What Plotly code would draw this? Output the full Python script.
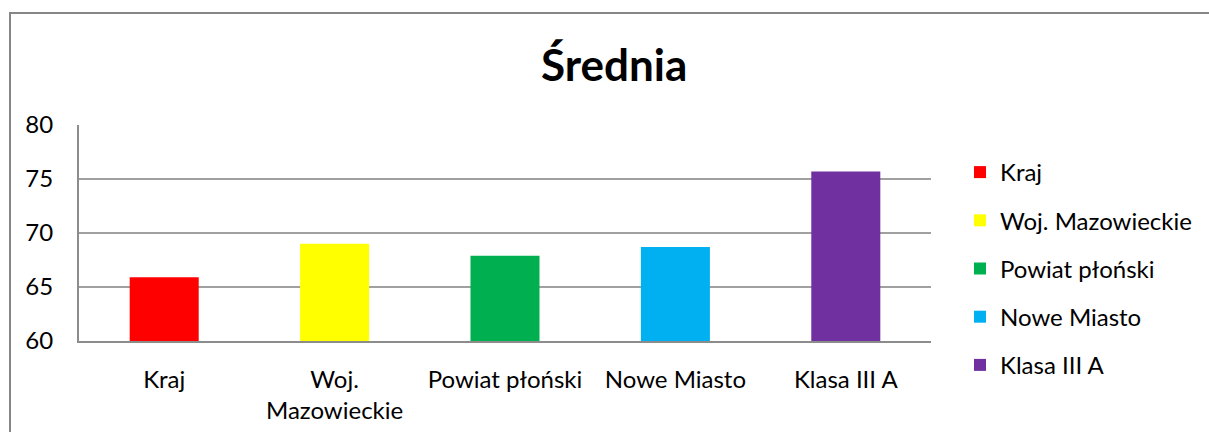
import plotly.graph_objects as go

categories = ["Kraj", "Woj. Mazowieckie", "Powiat płoński", "Nowe Miasto", "Klasa III A"]
tick_labels = ["Kraj", "Woj.<br>Mazowieckie", "Powiat płoński", "Nowe Miasto", "Klasa III A"]
values = [65.9, 69.0, 67.9, 68.7, 75.7]
colors = ["#FF0000", "#FFFF00", "#00B050", "#00B0F0", "#7030A0"]
y_ticks = [60, 65, 70, 75, 80]

FONT = "Lato"
W, H = 1209, 432
ML, MR, MT, MB = 79, 278, 100, 40
GW, GH = W - ML - MR, H - MT - MB


def py(pix):
    """page pixel row -> paper y fraction"""
    return (H - MB - pix) / GH


def px(pix):
    return (pix - ML) / GW


fig = go.Figure()
for i, (cat, v, c) in enumerate(zip(categories, values, colors)):
    fig.add_trace(go.Bar(
        x=[cat], y=[v], name=cat, marker=dict(color=c, line=dict(width=0)),
        width=0.405, legendgroup=f"g{i}",
    ))

fig.update_layout(
    width=W, height=H,
    barmode="overlay",
    plot_bgcolor="white", paper_bgcolor="white",
    margin=dict(l=ML, r=MR, t=MT, b=MB, autoexpand=False),
    title=dict(text="<b>Średnia</b>", x=0.508, xanchor="center", y=0.848, yanchor="middle",
               font=dict(family=FONT, size=44, color="black")),
    font=dict(family=FONT, size=24, color="black"),
    legend=dict(x=px(960), xanchor="left", y=py(150), yanchor="top", tracegroupgap=14,
                font=dict(family=FONT, size=24, color="black"), itemwidth=30),
    showlegend=True,
    shapes=[dict(type="rect", xref="paper", yref="paper",
                 x0=px(10), x1=px(1260), y0=py(500), y1=py(13),
                 line=dict(color="#868686", width=2), fillcolor="rgba(0,0,0,0)", layer="below")],
)
fig.update_xaxes(
    domain=[0, 1],
    categoryorder="array", categoryarray=categories,
    tickvals=categories, ticktext=tick_labels,
    showline=True, linecolor="#8c8c8c", linewidth=2,
    ticks="outside", ticklen=16, tickcolor="rgba(0,0,0,0)",
    tickfont=dict(family=FONT, size=24, color="black"),
    automargin=False,
)
fig.update_yaxes(
    domain=[py(341), py(125)],
    range=[60, 80], tickvals=y_ticks,
    showgrid=True, gridcolor="#a0a0a0", gridwidth=2,
    showline=True, linecolor="#8c8c8c", linewidth=2,
    ticks="outside", ticklen=19, tickcolor="rgba(0,0,0,0)",
    tickfont=dict(family=FONT, size=24, color="black"),
    zeroline=False, automargin=False,
)
fig.write_html("out.html", config={"displayModeBar": False},
               post_script="document.body.style.margin='0';")
